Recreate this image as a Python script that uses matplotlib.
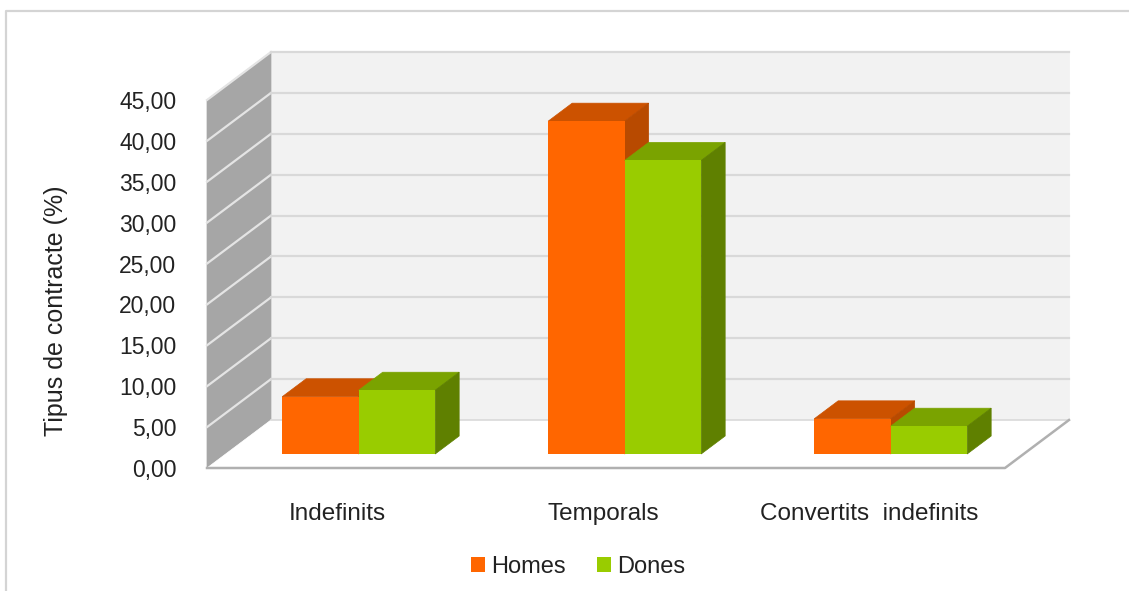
import matplotlib
matplotlib.use("Agg")
import matplotlib.pyplot as plt
from matplotlib.lines import Line2D
from matplotlib.patches import Polygon
import numpy as np

plt.rcParams['font.family'] = ['Liberation Sans', 'DejaVu Sans']

#data
categories = ['Indefinits', 'Temporals', 'Convertits  indefinits']
homes = [7.0, 40.7, 4.3]
dones = [7.8, 35.9, 3.4]
y_ticks = [0, 5, 10, 15, 20, 25, 30, 35, 40, 45]
y_labels = ['0,00', '5,00', '10,00', '15,00', '20,00', '25,00', '30,00', '35,00', '40,00', '45,00']

W, H = 1129, 591
figure = plt.figure(figsize=(W/100, H/100), dpi=100)

#frame: only top and left lines are visible in the crop
figure.add_artist(Line2D([6/W, 6/W, 1], [0, 1-11/H, 1-11/H], transform=figure.transFigure,
                         color='#d4d4d4', linewidth=1.6))

#axes = front plane of the 3d box
left, right, top, bottom = 207, 1005, 100, 468
axis = figure.add_axes([left/W, 1-bottom/H, (right-left)/W, (bottom-top)/H])
axis.set_xlim(-0.5, 2.5)
axis.set_ylim(0, 45)
axis.patch.set_visible(False)
for s in axis.spines.values():
    s.set_visible(False)

#depth of the box in pixels
depth_x = 64
depth_y = 48
px_x = 3/(right-left)
px_y = 45/(bottom-top)

def pt(x, y, d):
    #d = 0 front plane, d = 1 back wall
    return (x + d*depth_x*px_x, y + d*depth_y*px_y)

def face(points, color, z):
    axis.add_patch(Polygon(points, closed=True, facecolor=color, edgecolor=color,
                           linewidth=0.5, clip_on=False, zorder=z))

#walls and floor
face([pt(-0.5, 0, 1), pt(2.5, 0, 1), pt(2.5, 45, 1), pt(-0.5, 45, 1)], '#f2f2f2', 1)
face([pt(-0.5, 0, 0), pt(-0.5, 0, 1), pt(-0.5, 45, 1), pt(-0.5, 45, 0)], '#a6a6a6', 1)
face([pt(-0.5, 0, 0), pt(2.5, 0, 0), pt(2.5, 0, 1), pt(-0.5, 0, 1)], '#ffffff', 1)

for t in y_ticks[1:]:
    xs, ys = zip(pt(-0.5, t, 0), pt(-0.5, t, 1), pt(2.5, t, 1))
    axis.plot(xs[:2], ys[:2], color='#e4e4e4', lw=1.6, clip_on=False, zorder=2)
    axis.plot(xs[1:], ys[1:], color='#d9d9d9', lw=1.6, clip_on=False, zorder=2)
xs, ys = zip(pt(-0.5, 0, 1), pt(2.5, 0, 1))
axis.plot(xs, ys, color='#d9d9d9', lw=1.2, clip_on=False, zorder=2)
xs, ys = zip(pt(-0.5, 0, 0), pt(2.5, 0, 0), pt(2.5, 0, 1))
axis.plot(xs, ys, color='#b0b0b0', lw=1.8, clip_on=False, zorder=2)

#bars
bar_w = 76.5*px_x
d0 = 14/depth_y
d1 = 32/depth_y
lift = d0*depth_y*px_y
x_pos = np.arange(len(categories))
shift = d0*depth_x*px_x

def bars3d(values, offset, front, top_c, side, label, z):
    rects = axis.bar(x_pos + offset + shift, values, bar_w, bottom=lift, align='edge',
                     color=front, label=label, clip_on=False, zorder=z+1)
    for x, v in zip(x_pos + offset, values):
        a = x
        b = x + bar_w
        face([pt(a, v, d0), pt(b, v, d0), pt(b, v, d1), pt(a, v, d1)], top_c, z)
        face([pt(b, 0, d0), pt(b, 0, d1), pt(b, v, d1), pt(b, v, d0)], side, z)
    return rects

#homes first, dones sits in front of its side face
r1 = bars3d(homes, -bar_w, '#ff6600', '#cc5200', '#b84a00', 'Homes', 3)
r2 = bars3d(dones, 0, '#99cc00', '#7aa300', '#5f8000', 'Dones', 5)

#labels
axis.set_yticks(y_ticks)
axis.set_yticklabels(y_labels, fontsize=16.5, color='#222222')
axis.set_xticks(x_pos - 3*px_x)
axis.set_xticklabels(categories, fontsize=17.5, color='#222222')
axis.tick_params(axis='both', length=0)
axis.tick_params(axis='y', pad=22)
axis.tick_params(axis='x', pad=25.5)
figure.text(56/W, 1-311/H, 'Tipus de contracte (%)', rotation=90, fontsize=18,
            color='#222222', ha='center', va='center')

#legend
figure.legend(handles=[r1, r2], labels=['Homes', 'Dones'], ncol=2, frameon=False, fontsize=17,
              loc='center', bbox_to_anchor=(578/W, 1-567/H), handlelength=0.6, handleheight=0.6,
              handletextpad=0.25, columnspacing=1.3, labelcolor='#222222')

figure.savefig('out.png', dpi=100)
